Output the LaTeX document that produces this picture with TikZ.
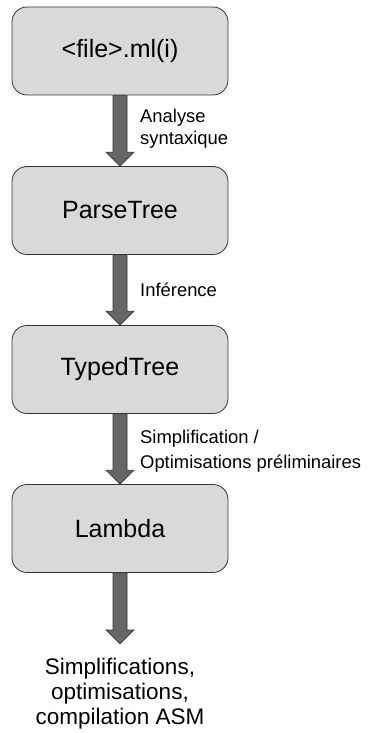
\documentclass[tikz,border=0pt]{standalone}
\usepackage{fontspec}
\setmainfont{Liberation Sans}
\usetikzlibrary{calc}

\definecolor{boxfill}{HTML}{D9D9D9}
\definecolor{arrowfill}{HTML}{666666}
\definecolor{edge}{HTML}{333333}

\tikzset{
    stage/.style={draw=edge, fill=boxfill, line width=0.8pt, rounded corners=15pt,
        minimum width=216pt, minimum height=88pt, font=\fontsize{25}{30}\selectfont},
    flowarrow/.style={draw=edge, fill=arrowfill, line width=0.6pt, line join=miter},
    steplabel/.style={anchor=west, align=left, inner sep=0pt, font=\fontsize{18.4}{22}\selectfont},
}

\newcommand{\flowarrow}[2]{%
    \draw[flowarrow] ($(#1.south)+(-7,0)$) -- ($(#2)+(-7,-14)$) -- ($(#2)+(-14,-14)$)
        -- (#2) -- ($(#2)+(14,-14)$) -- ($(#2)+(7,-14)$) -- ($(#1.south)+(7,0)$) -- cycle;}

\begin{document}
\begin{tikzpicture}[x=1pt, y=-1pt]
    \useasboundingbox (0, 0) rectangle (371, 733);
    \node[stage] (src) at (120, 51) {<file>.ml(i)};
    \node[stage] (parse) at (120, 210.5) {ParseTree};
    \node[stage] (typed) at (120, 369.5) {TypedTree};
    \node[stage] (lambda) at (120, 528.5) {Lambda};
    \coordinate (end) at (120, 644);

    \flowarrow{src}{parse.north}
    \flowarrow{parse}{typed.north}
    \flowarrow{typed}{lambda.north}
    \flowarrow{lambda}{end}

    \node[steplabel] (syntax) at (140, 129) {Analyse\\syntaxique};
    \node[steplabel] (infer) at (140, 290) {Inférence};
    \node[steplabel, font=\fontsize{18.4}{25}\selectfont] (simpl) at (140, 451) {Simplification /\\Optimisations préliminaires};
    \node[align=center, inner sep=0pt, font=\fontsize{22.5}{25}\selectfont] (asm) at (120, 694) {Simplifications,\\optimisations,\\compilation ASM};
\end{tikzpicture}
\end{document}
